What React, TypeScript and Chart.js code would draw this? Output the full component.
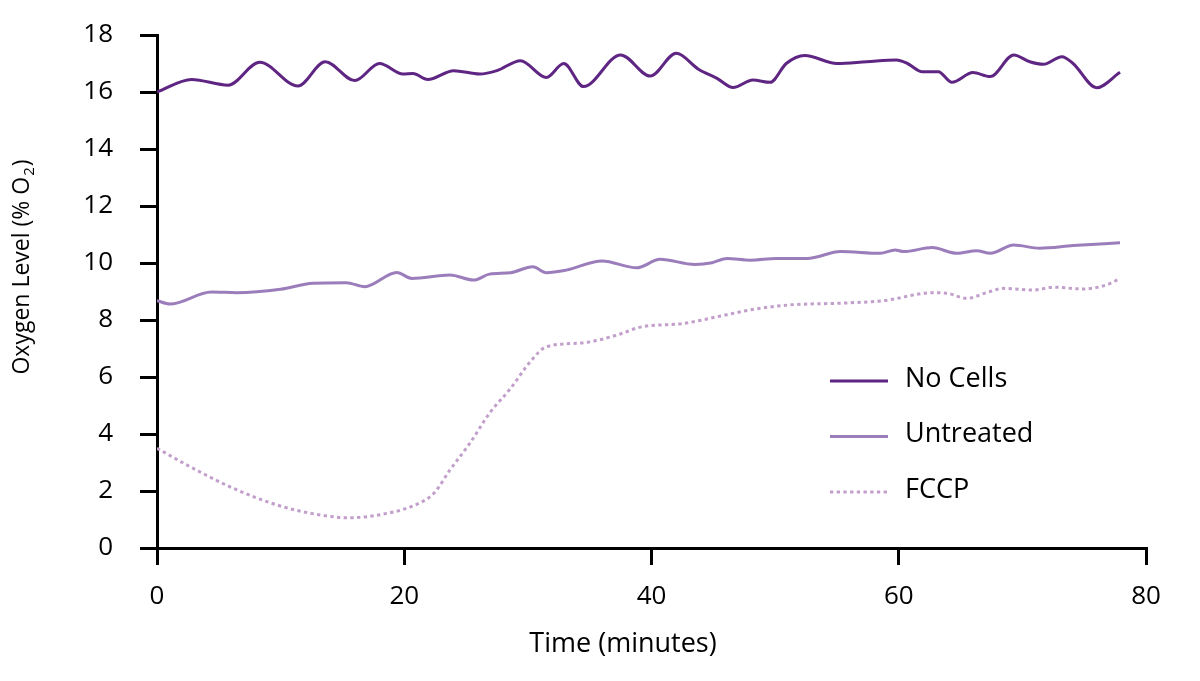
import { useEffect, useRef } from "react";
import { Chart, ChartConfiguration, Plugin } from "chart.js/auto";

// time in minutes, oxygen in % O2
const noCellsTime = [0, 2.8, 5.75, 8.3, 11.4, 13.6, 16.0, 18.0, 19.9, 20.7, 21.9, 24.0, 26.1, 27.5, 29.4, 31.5, 32.9, 34.5, 37.5, 39.9, 42.0, 43.8, 45.3, 46.6, 48.2, 49.6, 50.9, 52.4, 55.0, 57.4, 59.8, 60.7, 61.9, 63.2, 64.3, 66.0, 67.4, 69.3, 70.6, 71.7, 73.2, 74.1, 76.0, 77.9];
const noCellsO2 = [16.0, 16.44, 16.24, 17.04, 16.21, 17.06, 16.4, 17.0, 16.63, 16.65, 16.44, 16.75, 16.63, 16.75, 17.1, 16.51, 17.0, 16.19, 17.3, 16.56, 17.36, 16.8, 16.48, 16.16, 16.42, 16.34, 17.0, 17.28, 17.0, 17.06, 17.12, 17.0, 16.71, 16.71, 16.34, 16.68, 16.54, 17.3, 17.06, 16.97, 17.24, 17.0, 16.15, 16.69];

const untreatedTime = [0, 1.05, 4.4, 6.45, 10.0, 12.6, 15.3, 16.8, 19.4, 20.6, 23.7, 25.6, 26.9, 28.6, 30.4, 31.5, 33.1, 36.0, 38.8, 40.7, 43.5, 44.9, 46.1, 48.0, 50.1, 52.6, 55.3, 58.5, 59.7, 60.4, 62.7, 64.7, 66.3, 67.4, 69.3, 71.4, 74.1, 77.9];
const untreatedO2 = [8.68, 8.56, 8.98, 8.96, 9.08, 9.29, 9.31, 9.17, 9.67, 9.46, 9.58, 9.4, 9.61, 9.66, 9.87, 9.66, 9.75, 10.07, 9.83, 10.13, 9.95, 10.01, 10.16, 10.1, 10.16, 10.16, 10.4, 10.34, 10.46, 10.4, 10.54, 10.34, 10.43, 10.34, 10.63, 10.52, 10.61, 10.71];

const fccpTime = [0, 2.9, 6.2, 9.7, 12.9, 15.6, 18.3, 21.0, 22.4, 23.7, 25.3, 26.9, 28.6, 30.2, 31.5, 34.5, 37.2, 39.1, 42.6, 45.6, 48.2, 51.2, 55.3, 58.8, 62.8, 63.9, 65.5, 67.1, 68.5, 70.9, 72.5, 74.9, 76.8, 77.9];
const fccpO2 = [3.5, 2.8, 2.09, 1.51, 1.18, 1.06, 1.19, 1.53, 1.92, 2.74, 3.67, 4.73, 5.6, 6.54, 7.06, 7.2, 7.47, 7.75, 7.88, 8.14, 8.37, 8.53, 8.59, 8.68, 8.96, 8.94, 8.76, 8.96, 9.11, 9.05, 9.15, 9.09, 9.23, 9.46];

const seriesNames = ["No Cells", "Untreated", "FCCP"];
const xTicks = [0, 20, 40, 60, 80];
const yTicks = [0, 2, 4, 6, 8, 10, 12, 14, 16, 18];

const FONT = '"Open Sans", "Noto Sans", sans-serif';

const toPoints = (xs: number[], ys: number[]) => xs.map((x, i) => ({ x, y: ys[i] }));

// axis titles (with a real subscript) and the in-plot legend
const annotations: Plugin<"line"> = {
    id: "annotations",
    afterDraw(chart) {
        const ctx = chart.ctx;
        ctx.save();
        ctx.fillStyle = "#000";
        ctx.textBaseline = "middle";

        // x title
        ctx.font = `27px ${FONT}`;
        ctx.textAlign = "center";
        ctx.fillText("Time (minutes)", 623, 644);

        // y title, rotated
        ctx.save();
        ctx.translate(22, 268);
        ctx.rotate(-Math.PI / 2);
        ctx.textAlign = "left";
        const main1 = "Oxygen Level (% O";
        const sub = "2";
        const main2 = ")";
        ctx.font = `23px ${FONT}`;
        const w1 = ctx.measureText(main1).width;
        const w2 = ctx.measureText(main2).width;
        ctx.font = `15px ${FONT}`;
        const ws = ctx.measureText(sub).width;
        const x = -(w1 + ws + w2) / 2;
        ctx.font = `23px ${FONT}`;
        ctx.fillText(main1, x, 0);
        ctx.font = `15px ${FONT}`;
        ctx.fillText(sub, x + w1 + 1, 8);
        ctx.font = `23px ${FONT}`;
        ctx.fillText(main2, x + w1 + ws + 2, 0);
        ctx.restore();

        // legend
        chart.data.datasets.forEach((ds: any, i) => {
            const y = 381 + i * 55.5;
            ctx.beginPath();
            ctx.strokeStyle = ds.borderColor;
            ctx.lineWidth = 3;
            ctx.setLineDash(ds.borderDash || []);
            ctx.moveTo(830, y);
            ctx.lineTo(888, y);
            ctx.stroke();
            ctx.setLineDash([]);
            ctx.fillStyle = "#000";
            ctx.textAlign = "left";
            ctx.font = `27px ${FONT}`;
            ctx.fillText(ds.label, 905, y - 2);
        });
        ctx.restore();
    },
};

export default function App() {
    const chartRef = useRef<HTMLCanvasElement>(null);
    const chartInstance = useRef<Chart | null>(null);

    useEffect(() => {
        if (!chartRef.current) return;
        if (chartInstance.current) chartInstance.current.destroy();
        const ctx = chartRef.current.getContext("2d");
        if (!ctx) return;

        const common = {
            borderWidth: 3,
            pointRadius: 0,
            fill: false,
            cubicInterpolationMode: "monotone" as const,
        };

        const axis = {
            grid: {
                drawOnChartArea: false,
                drawTicks: true,
                tickLength: 17,
                lineWidth: 3,
                color: "#000",
                tickColor: "#000",
            },
            border: { display: true, width: 3, color: "#000" },
        };

        const config: ChartConfiguration<"line"> = {
            type: "line",
            data: {
                datasets: [
                    { ...common, label: seriesNames[0], data: toPoints(noCellsTime, noCellsO2), borderColor: "#5f2582" },
                    { ...common, label: seriesNames[1], data: toPoints(untreatedTime, untreatedO2), borderColor: "#9b7dbc" },
                    { ...common, label: seriesNames[2], data: toPoints(fccpTime, fccpO2), borderColor: "#c29fcb", borderDash: [3.3, 3.4] },
                ],
            },
            options: {
                responsive: true,
                maintainAspectRatio: false,
                animation: false,
                layout: { padding: { top: 35, right: 54, left: 0, bottom: 0 } },
                plugins: {
                    legend: { display: false },
                    tooltip: { enabled: false },
                },
                scales: {
                    x: {
                        type: "linear",
                        min: 0,
                        max: 80,
                        afterBuildTicks: (scale) => {
                            scale.ticks = xTicks.map((value) => ({ value }));
                        },
                        afterFit: (scale: any) => {
                            scale.height = 133;
                            scale.paddingLeft = 0;
                            scale.paddingRight = 0;
                        },
                        ticks: {
                            color: "#000",
                            padding: 16,
                            maxRotation: 0,
                            font: { family: FONT, size: 26 },
                        },
                        ...axis,
                    },
                    y: {
                        min: 0,
                        max: 18,
                        afterBuildTicks: (scale) => {
                            scale.ticks = yTicks.map((value) => ({ value }));
                        },
                        afterFit: (scale: any) => {
                            // fixed gutter; label overhang is covered by the layout padding
                            scale.width = 157;
                            scale.paddingTop = 0;
                            scale.paddingBottom = 0;
                        },
                        ticks: {
                            color: "#000",
                            padding: 27,
                            font: { family: FONT, size: 26 },
                        },
                        ...axis,
                    },
                },
            },
            plugins: [annotations],
        };

        chartInstance.current = new Chart(ctx, config);

        return () => {
            if (chartInstance.current) {
                chartInstance.current.destroy();
                chartInstance.current = null;
            }
        };
    }, []);

    return (
        <div style={{ position: "fixed", left: 0, top: 0, width: 1200, height: 681, background: "#fff" }}>
            <canvas ref={chartRef}></canvas>
        </div>
    );
}
